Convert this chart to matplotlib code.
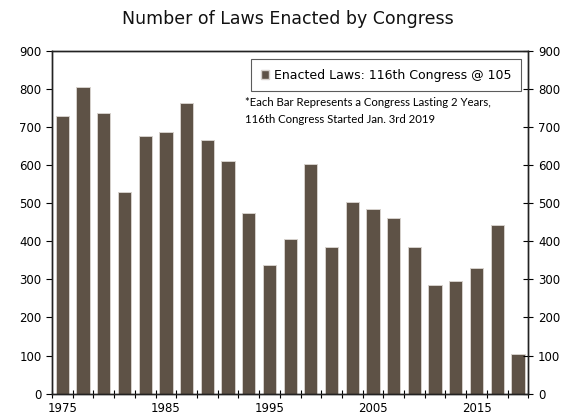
import matplotlib
matplotlib.use("Agg")
import matplotlib.pyplot as plt
import numpy as np
from matplotlib.patches import Patch
from matplotlib.ticker import MultipleLocator, FixedLocator

# one bar per Congress (94th .. 116th), labelled by start year
years = list(range(1975, 2020, 2))
laws = [729, 804, 736, 529, 676, 687, 762, 666, 610, 473, 337, 405,
        604, 384, 504, 484, 461, 385, 284, 296, 329, 443, 105]
label_years = [1975, 1985, 1995, 2005, 2015]

BAR = "#5e5246"
EDGE = "#d6d1cc"

fig = plt.figure(figsize=(5.76, 4.16), dpi=100)
ax = fig.add_axes([0.0903, 0.0536, 0.8269, 0.8244])

x = np.arange(len(years))
ax.bar(x, laws, width=0.64, color=BAR, edgecolor=EDGE, linewidth=0.7, zorder=2)

ax.set_xlim(-0.5, len(years) - 0.5)
ax.set_ylim(0, 900)

# x: labels under every 5th bar, tick marks between bars
ax.set_xticks([years.index(y) for y in label_years])
ax.set_xticklabels([str(y) for y in label_years])
ax.xaxis.set_minor_locator(FixedLocator(np.arange(-0.5, len(years), 1.0)))
ax.tick_params(axis="x", which="major", length=0, labelsize=8.5, pad=6)
ax.tick_params(axis="x", which="minor", direction="inout", length=6, width=0.8)

ax.yaxis.set_major_locator(MultipleLocator(100))
ax.tick_params(axis="y", direction="out", length=4, width=0.8, labelsize=8.5)

ax2 = ax.twinx()
ax2.set_ylim(0, 900)
ax2.yaxis.set_major_locator(MultipleLocator(100))
ax2.tick_params(axis="y", direction="inout", length=7, width=0.8, labelsize=8.5)

for a in (ax, ax2):
    for s in a.spines.values():
        s.set_linewidth(1.0)
        s.set_color("#222222")

fig.text(0.5, 0.955, "Number of Laws Enacted by Congress", ha="center", va="center",
         fontsize=12.5, color="#111111")

handle = Patch(facecolor=BAR, edgecolor=EDGE)
leg = ax.legend([handle], ["Enacted Laws: 116th Congress @ 105"], loc="upper right",
                bbox_to_anchor=(0.985, 0.975), fancybox=False, frameon=True,
                edgecolor="#333333", fontsize=9, handlelength=0.7, handleheight=0.7,
                handletextpad=0.4, borderpad=0.75, borderaxespad=0)
leg.get_frame().set_linewidth(0.8)

ax.text(0.405, 0.865, "*Each Bar Represents a Congress Lasting 2 Years,\n116th Congress Started Jan. 3rd 2019",
        transform=ax.transAxes, ha="left", va="top", fontsize=8.2, family="Lato",
        linespacing=1.65)

fig.savefig("out.png", dpi=100)
